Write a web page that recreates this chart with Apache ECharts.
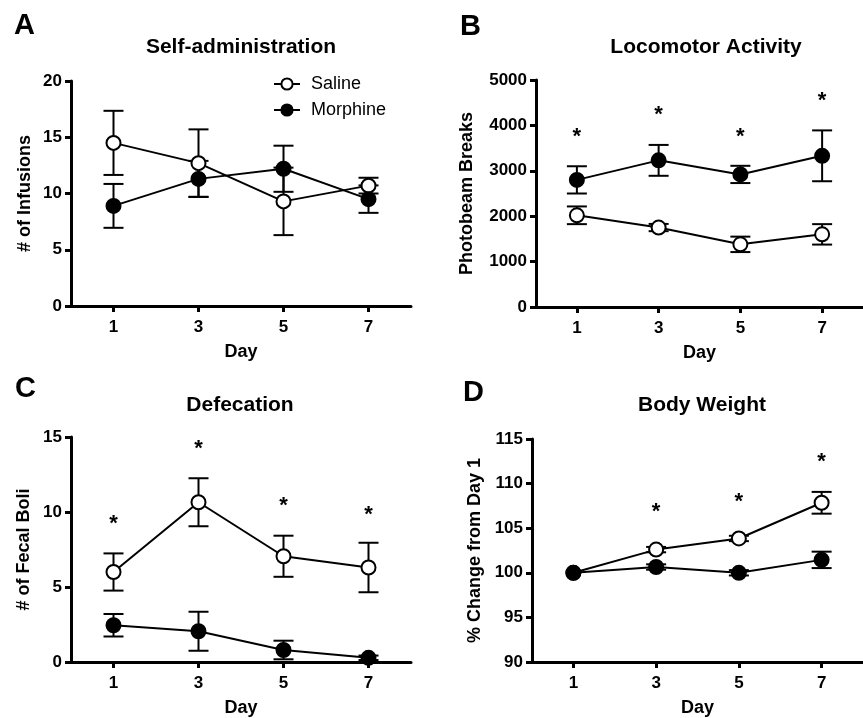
<!DOCTYPE html>
<html>
<head>
<meta charset="utf-8">
<script src="https://cdn.jsdelivr.net/npm/echarts@6/dist/echarts.min.js"></script>
<style>
html,body{margin:0;padding:0;background:#fff;}
#chart{width:863px;height:718px;}
</style>
</head>
<body>
<div id="chart"></div>
<script>
// ---- data ----
const days = [1, 3, 5, 7];
const dayTicks = [1, 3, 5, 7];
const seriesNames = ['Saline', 'Morphine'];

// A: Self-administration (# of infusions)
const salineA = [14.5, 12.7, 9.3, 10.7];
const salineSemA = [2.85, 3.0, 3.0, 0.7];
const morphineA = [8.9, 11.3, 12.2, 9.5];
const morphineSemA = [1.95, 1.6, 2.05, 1.22];
const starsA = [null, null, null, null];

// B: Locomotor activity (photobeam breaks)
const salineB = [2020, 1750, 1380, 1600];
const salineSemB = [195, 80, 170, 225];
const morphineB = [2800, 3230, 2920, 3330];
const morphineSemB = [300, 340, 190, 560];
const starsB = [3830, 4310, 3830, 4620];

// C: Defecation (# of fecal boli)
const salineC = [6.0, 10.65, 7.05, 6.3];
const salineSemC = [1.24, 1.6, 1.37, 1.65];
const morphineC = [2.45, 2.05, 0.8, 0.28];
const morphineSemC = [0.75, 1.3, 0.62, 0.15];
const starsC = [9.5, 14.45, 10.7, 10.1];

// D: Body weight (% change from day 1)
const salineD = [100, 102.6, 103.85, 107.85];
const salineSemD = [0, 0.3, 0.3, 1.22];
const morphineD = [100, 100.65, 100.0, 101.45];
const morphineSemD = [0, 0.3, 0.3, 0.92];
const starsD = [null, 107.3, 108.4, 112.9];

const panelTitles = ['Self-administration', 'Locomotor Activity', 'Defecation', 'Body Weight'];
const panelLetters = ['A', 'B', 'C', 'D'];
const yNames = ['# of Infusions', 'Photobeam Breaks', '# of Fecal Boli', '% Change from Day 1'];
const yRanges = [[0, 20, 5], [0, 5000, 1000], [0, 15, 5], [90, 115, 5]];

const panels = [
  {sal: salineA, salSem: salineSemA, mor: morphineA, morSem: morphineSemA, stars: starsA},
  {sal: salineB, salSem: salineSemB, mor: morphineB, morSem: morphineSemB, stars: starsB},
  {sal: salineC, salSem: salineSemC, mor: morphineC, morSem: morphineSemC, stars: starsC},
  {sal: salineD, salSem: salineSemD, mor: morphineD, morSem: morphineSemD, stars: starsD}
];

// ---- layout ----
const FF = '"Liberation Sans", Arial, Helvetica, sans-serif';
const grids = [
  {left: 71, top: 81, width: 340, height: 225},
  {left: 536, top: 80, width: 340, height: 227},
  {left: 71, top: 437, width: 340, height: 228},
  {left: 532, top: 439, width: 340, height: 226}
];
const yNameGaps = [37, 60, 38, 48];
const titlePos = [[241, 47], [706, 47], [240, 405], [702, 405]];
const letterPos = [[14, 26], [460, 27], [15, 389], [463, 393]];

const chart = echarts.init(document.getElementById('chart'), null, {renderer: 'canvas'});

const xAxes = [], yAxes = [], series = [], graphics = [];

function errItem(params, api) {
  const x = api.value(0), lo = api.value(1), hi = api.value(2);
  if (hi - lo <= 0) return null;
  const p1 = api.coord([x, lo]);
  const p2 = api.coord([x, hi]);
  const w = 10;
  const st = {stroke: '#000', lineWidth: 2, fill: null};
  return {
    type: 'group',
    children: [
      {type: 'line', shape: {x1: p1[0], y1: p1[1], x2: p2[0], y2: p2[1]}, style: st},
      {type: 'line', shape: {x1: p1[0] - w, y1: p1[1], x2: p1[0] + w, y2: p1[1]}, style: st},
      {type: 'line', shape: {x1: p2[0] - w, y1: p2[1], x2: p2[0] + w, y2: p2[1]}, style: st}
    ]
  };
}

function starItem(params, api) {
  const p = api.coord([api.value(0), api.value(1)]);
  return {
    type: 'text',
    style: {
      text: '*', x: p[0], y: p[1] + 4,
      align: 'center', verticalAlign: 'middle',
      font: 'bold 22px ' + FF, fill: '#000'
    }
  };
}

panels.forEach((pn, i) => {
  xAxes.push({
    type: 'value', gridIndex: i, min: 0, max: 8,
    axisLine: {show: true, onZero: false, lineStyle: {color: '#000', width: 3}},
    axisTick: {show: true, customValues: dayTicks, length: 6, lineStyle: {color: '#000', width: 3}},
    axisLabel: {customValues: dayTicks, color: '#000', fontSize: 17, fontWeight: 'bold', fontFamily: FF, margin: 13},
    splitLine: {show: false},
    name: 'Day', nameLocation: 'middle', nameGap: 37,
    nameTextStyle: {color: '#000', fontSize: 18, fontWeight: 'bold', fontFamily: FF}
  });
  yAxes.push({
    type: 'value', gridIndex: i, min: yRanges[i][0], max: yRanges[i][1], interval: yRanges[i][2],
    axisLine: {show: true, onZero: false, lineStyle: {color: '#000', width: 3}},
    axisTick: {show: true, length: 6, lineStyle: {color: '#000', width: 3}},
    axisLabel: {color: '#000', fontSize: 17, fontWeight: 'bold', fontFamily: FF, margin: 9,
      formatter: v => String(v)},
    splitLine: {show: false},
    name: yNames[i], nameLocation: 'middle', nameGap: yNameGaps[i], nameRotate: 90,
    nameTextStyle: {color: '#000', fontSize: 18, fontWeight: 'bold', fontFamily: FF}
  });

  const groups = [
    {name: seriesNames[0], vals: pn.sal, sem: pn.salSem, fill: '#fff'},
    {name: seriesNames[1], vals: pn.mor, sem: pn.morSem, fill: '#000'}
  ];
  groups.forEach(g => {
    series.push({
      type: 'custom', xAxisIndex: i, yAxisIndex: i, z: 1, silent: true,
      renderItem: errItem,
      encode: {x: 0, y: [1, 2]},
      data: days.map((d, k) => [d, g.vals[k] - g.sem[k], g.vals[k] + g.sem[k]])
    });
  });
  groups.forEach(g => {
    series.push({
      type: 'line', name: g.name, xAxisIndex: i, yAxisIndex: i, z: 3,
      data: days.map((d, k) => [d, g.vals[k]]),
      symbol: 'circle', symbolSize: 14, showAllSymbol: true,
      lineStyle: {color: '#000', width: 2},
      itemStyle: {color: g.fill, borderColor: '#000', borderWidth: 2},
      emphasis: {disabled: true}
    });
  });
  series.push({
    type: 'custom', xAxisIndex: i, yAxisIndex: i, z: 4, silent: true,
    renderItem: starItem,
    data: days.map((d, k) => [d, pn.stars[k]]).filter(v => v[1] !== null)
  });

  graphics.push({
    type: 'text', x: titlePos[i][0], y: titlePos[i][1],
    style: {text: panelTitles[i], align: 'center', verticalAlign: 'middle',
      font: 'bold 21px ' + FF, fill: '#000'}
  });
  graphics.push({
    type: 'text', x: letterPos[i][0], y: letterPos[i][1],
    style: {text: panelLetters[i], align: 'left', verticalAlign: 'middle',
      font: 'bold 29px ' + FF, fill: '#000'}
  });
});

chart.setOption({
  animation: false,
  backgroundColor: '#fff',
  grid: grids.map(g => Object.assign({containLabel: false}, g)),
  xAxis: xAxes,
  yAxis: yAxes,
  series: series,
  legend: {
    data: seriesNames, orient: 'vertical', left: 268, top: 70,
    itemWidth: 26, itemHeight: 14, itemGap: 8, selectedMode: false,
    textStyle: {color: '#000', fontSize: 18, fontFamily: FF, lineHeight: 18, padding: [0, 0, 0, 6]}
  },
  graphic: graphics
});
</script>
</body>
</html>
